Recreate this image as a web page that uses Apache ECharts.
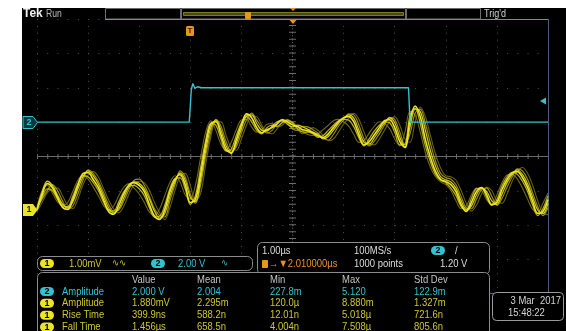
<!DOCTYPE html>
<html>
<head>
<meta charset="utf-8">
<script src="https://cdn.jsdelivr.net/npm/echarts@6/dist/echarts.min.js"></script>
<style>
html,body{margin:0;padding:0;background:#fff;}
#scope{width:566px;height:331px;}
</style>
</head>
<body>
<div id="scope"></div>
<script>
// ---- Horizontal: 1.00 µs/div, trigger at t = 0 (3 div from the left edge) ----
const TIME_MIN = -3;
const TIME_MAX = 7;
const SAMPLE_STEP = 0.1;            // µs between stored samples

// ---- CH1: 1.00 mV/div, ground marker 1.54 div below centre ----
const CH1_SCALE = 1.00;
const CH1_OFFSET_DIV = -1.54;
// CH2: 2.00 V/div, ground marker 1 div above centre
const CH2_SCALE = 2.00;
const CH2_OFFSET_DIV = 1.0;

// CH1 acquisitions held by the persistence display (mV)
const ch1AcqMain = [
  0.00, 0.43, 0.75, 0.64, 0.35, 0.06, 0.00, 0.29, 0.70, 1.04,
  1.07, 0.87, 0.64, 0.29, -0.06, -0.14, 0.12, 0.46, 0.72, 0.78,
  0.70, 0.52, 0.14, -0.20, -0.29, 0.00, 0.52, 0.87, 1.01, 0.72,
  0.20, 0.29, 1.01, 1.88, 2.49, 2.55, 2.17, 1.74, 1.65, 2.03,
  2.46, 2.78, 2.67, 2.38, 2.23, 2.32, 2.38, 2.49, 2.61, 2.55,
  2.46, 2.41, 2.32, 2.29, 2.23, 2.14, 2.09, 2.20, 2.38, 2.55,
  2.67, 2.70, 2.55, 2.17, 1.88, 1.97, 2.17, 2.38, 2.58, 2.61,
  2.38, 1.97, 1.80, 2.61, 3.01, 2.70, 2.03, 1.51, 1.10, 0.87,
  0.81, 0.72, 0.52, 0.14, -0.06, 0.20, 0.52, 0.64, 0.43, 0.14,
  0.20, 0.58, 0.87, 1.07, 1.10, 0.93, 0.64, 0.23, -0.12, -0.06,
  0.29
];
const ch1AcqA = [
  0.02, 0.50, 0.82, 0.70, 0.42, 0.15, 0.05, 0.22, 0.60, 0.95,
  1.12, 0.98, 0.74, 0.40, 0.05, -0.10, 0.02, 0.35, 0.66, 0.80,
  0.76, 0.60, 0.30, -0.05, -0.25, -0.12, 0.38, 0.80, 1.06, 0.85,
  0.35, 0.22, 0.85, 1.70, 2.38, 2.60, 2.30, 1.85, 1.62, 1.92,
  2.35, 2.72, 2.75, 2.50, 2.30, 2.28, 2.42, 2.55, 2.58, 2.48,
  2.40, 2.45, 2.40, 2.33, 2.25, 2.18, 2.05, 2.12, 2.30, 2.50,
  2.66, 2.75, 2.65, 2.30, 1.95, 1.90, 2.08, 2.30, 2.52, 2.66,
  2.52, 2.10, 1.82, 2.40, 2.92, 2.85, 2.30, 1.70, 1.25, 0.95,
  0.86, 0.80, 0.62, 0.25, 0.00, 0.10, 0.42, 0.62, 0.52, 0.25,
  0.15, 0.45, 0.78, 1.02, 1.15, 1.02, 0.75, 0.35, -0.02, -0.12,
  0.18
];
const ch1AcqB = [
  -0.02, 0.35, 0.60, 0.55, 0.30, 0.10, 0.08, 0.38, 0.75, 0.98,
  0.95, 0.78, 0.55, 0.22, -0.02, -0.05, 0.22, 0.52, 0.68, 0.70,
  0.60, 0.40, 0.05, -0.22, -0.20, 0.12, 0.60, 0.90, 0.92, 0.60,
  0.15, 0.40, 1.20, 2.00, 2.50, 2.45, 2.05, 1.70, 1.75, 2.15,
  2.52, 2.70, 2.55, 2.30, 2.20, 2.38, 2.45, 2.42, 2.52, 2.60,
  2.52, 2.35, 2.25, 2.25, 2.20, 2.10, 2.15, 2.30, 2.45, 2.58,
  2.62, 2.60, 2.40, 2.08, 1.85, 2.05, 2.28, 2.45, 2.55, 2.52,
  2.25, 1.88, 1.90, 2.75, 2.95, 2.50, 1.85, 1.38, 1.02, 0.85,
  0.78, 0.62, 0.40, 0.08, -0.02, 0.32, 0.60, 0.62, 0.35, 0.12,
  0.28, 0.68, 0.95, 1.08, 1.02, 0.82, 0.52, 0.12, -0.18, 0.02,
  0.40
];
const ch1AcqC = [
  0.05, 0.30, 0.55, 0.72, 0.55, 0.25, 0.02, 0.10, 0.45, 0.85,
  1.15, 1.05, 0.82, 0.50, 0.15, -0.05, -0.02, 0.25, 0.58, 0.85,
  0.88, 0.70, 0.38, 0.02, -0.18, -0.22, 0.25, 0.72, 1.12, 0.95,
  0.45, 0.18, 0.70, 1.55, 2.25, 2.62, 2.42, 1.98, 1.70, 1.82,
  2.22, 2.60, 2.80, 2.60, 2.38, 2.22, 2.30, 2.50, 2.62, 2.52,
  2.35, 2.30, 2.42, 2.40, 2.32, 2.22, 2.08, 2.02, 2.18, 2.42,
  2.60, 2.78, 2.75, 2.45, 2.05, 1.85, 1.98, 2.20, 2.45, 2.68,
  2.62, 2.25, 1.88, 2.20, 2.80, 2.92, 2.50, 1.92, 1.40, 1.05,
  0.92, 0.88, 0.72, 0.38, 0.05, 0.02, 0.30, 0.58, 0.62, 0.38,
  0.12, 0.32, 0.65, 0.95, 1.18, 1.12, 0.88, 0.48, 0.08, -0.18,
  0.05
];
const ch1AcqD = [
  -0.05, 0.20, 0.48, 0.60, 0.62, 0.40, 0.12, 0.02, 0.30, 0.72,
  1.00, 1.10, 0.95, 0.62, 0.28, 0.02, -0.10, 0.10, 0.45, 0.72,
  0.82, 0.78, 0.55, 0.20, -0.10, -0.30, 0.05, 0.55, 0.95, 1.05,
  0.70, 0.25, 0.45, 1.30, 2.10, 2.55, 2.55, 2.15, 1.80, 1.72,
  2.05, 2.45, 2.72, 2.70, 2.45, 2.25, 2.20, 2.35, 2.55, 2.62,
  2.50, 2.32, 2.20, 2.28, 2.38, 2.30, 2.15, 2.00, 2.05, 2.25,
  2.48, 2.65, 2.80, 2.62, 2.25, 1.92, 1.88, 2.05, 2.30, 2.55,
  2.70, 2.45, 2.05, 1.95, 2.55, 2.98, 2.70, 2.15, 1.60, 1.20,
  0.98, 0.95, 0.85, 0.55, 0.18, -0.05, 0.12, 0.45, 0.65, 0.55,
  0.25, 0.18, 0.45, 0.82, 1.10, 1.22, 1.05, 0.70, 0.25, -0.10,
  -0.15
];
const ch1AcqE = [
  0.08, 0.55, 0.70, 0.48, 0.22, 0.12, 0.20, 0.52, 0.85, 1.00,
  0.88, 0.65, 0.40, 0.12, -0.02, 0.10, 0.40, 0.65, 0.75, 0.62,
  0.45, 0.20, -0.08, -0.18, 0.02, 0.40, 0.78, 0.98, 0.80, 0.42,
  0.30, 0.70, 1.50, 2.25, 2.58, 2.30, 1.90, 1.72, 1.95, 2.32,
  2.60, 2.62, 2.40, 2.25, 2.30, 2.48, 2.50, 2.40, 2.45, 2.58,
  2.55, 2.40, 2.28, 2.18, 2.15, 2.20, 2.32, 2.45, 2.58, 2.62,
  2.55, 2.42, 2.18, 1.95, 2.00, 2.22, 2.42, 2.55, 2.50, 2.35,
  2.05, 1.85, 2.25, 2.85, 2.75, 2.25, 1.65, 1.22, 0.95, 0.80,
  0.72, 0.55, 0.25, 0.02, 0.10, 0.42, 0.62, 0.55, 0.28, 0.15,
  0.42, 0.78, 1.00, 1.02, 0.88, 0.62, 0.30, 0.00, -0.10, 0.18,
  0.48
];

// CH2 gate pulse: breakpoints in µs and volts
const ch2Times = [-3, -0.02, 0.02, 0.05, 0.09, 0.14, 0.22, 4.27, 4.30, 7];
const ch2Volts = [0, 0, 1.90, 2.25, 1.96, 2.06, 2.00, 2.00, 0, 0];

// ---- readouts ----
const ch1Readout = '1.00mV';
const ch2Readout = '2.00 V';
const horizScale = '1.00µs';
const sampleRate = '100MS/s';
const horizPosition = '2.010000µs';
const recordLength = '1000 points';
const triggerLevel = '1.20 V';
const dateText = '3 Mar  2017';
const timeText = '15:48:22';

const measHeaders = ['Value', 'Mean', 'Min', 'Max', 'Std Dev'];
const measSource = ['2', '1', '1', '1'];
const measName = ['Amplitude', 'Amplitude', 'Rise Time', 'Fall Time'];
const measValue = ['2.000 V', '1.880mV', '399.9ns', '1.456µs'];
const measMean = ['2.004', '2.295m', '588.2n', '658.5n'];
const measMin = ['227.8m', '120.0µ', '12.01n', '4.004n'];
const measMax = ['5.120', '8.880m', '5.018µ', '7.508µ'];
const measStd = ['122.9m', '1.327m', '721.6n', '805.6n'];

// ---- look ----
const FONT = "'Liberation Sans',sans-serif";
const TEXT_SQUEEZE = 0.86;          // readout font is narrower than the stock sans
const YELLOW = '#ece428';
const YELLOW_TXT = '#cfc62c';
const CYAN = '#35c2d0';
const ORANGE = '#e8951c';
const GRID_DOT = '#4e4e4e';
const FRAME = '#8c8c8c';

const sampleTimes = ch1AcqMain.map((_, i) => +(TIME_MIN + i * SAMPLE_STEP).toFixed(2));

const chart = echarts.init(document.getElementById('scope'), null, { renderer: 'canvas' });

function txt(x, y, s, color, size, opt) {
  opt = opt || {};
  return {
    type: 'text', x: x, y: y, z: 120, silent: true,
    scaleX: opt.noSqueeze ? 1 : TEXT_SQUEEZE,
    style: {
      text: s, fill: color,
      font: (opt.bold ? 'bold ' : '') + (size || 11) + 'px ' + FONT,
      textAlign: opt.align || 'left', align: opt.align || 'left',
      textVerticalAlign: 'middle', verticalAlign: 'middle'
    }
  };
}
function rect(x, y, w, h, r, stroke, fill, z) {
  return {
    type: 'rect', z: z == null ? 110 : z, silent: true,
    shape: { x: x, y: y, width: w, height: h, r: r || 0 },
    style: { fill: fill || 'none', stroke: stroke || 'none', lineWidth: 1 }
  };
}
function line(x1, y1, x2, y2, color, z) {
  return {
    type: 'line', z: z == null ? 110 : z, silent: true,
    shape: { x1: x1, y1: y1, x2: x2, y2: y2 },
    style: { stroke: color, lineWidth: 1 }
  };
}
function poly(points, fill, stroke) {
  return {
    type: 'polygon', z: 115, silent: true,
    shape: { points: points },
    style: { fill: fill, stroke: stroke || 'none', lineWidth: 1 }
  };
}
function pill(x, y, label, color) {
  return [
    rect(x, y, 14, 9, 4.5, null, color, 115),
    txt(x + 7, y + 4.7, label, '#000', 9, { align: 'center', bold: true, noSqueeze: true })
  ];
}

const gfx = [];
// screen background
gfx.push(rect(22, 8, 544, 323, 0, null, '#000', -10));
// status bar
gfx.push(txt(23, 14, 'Tek', '#f2f2f2', 12, { bold: true, noSqueeze: true }));
gfx.push(txt(46, 14, 'Run', '#b8b8b8', 10));
gfx.push(rect(105.5, 8.5, 75, 10.5, 0, '#6c6c6c', '#000'));
gfx.push(rect(181.5, 8.5, 224, 10.5, 0, '#6c6c6c', '#000'));
gfx.push(rect(183.5, 12.5, 220, 3, 0, '#7c7a24', '#4a4816'));
gfx.push(rect(245, 12, 6, 7, 1, null, ORANGE, 116));
gfx.push(poly([[290, 8], [296, 8], [293, 11]], ORANGE));
gfx.push(rect(406.5, 8.5, 74, 10.5, 0, '#6c6c6c', '#000'));
gfx.push(txt(484, 14, "Trig'd", '#cfcfcf', 10.5));
gfx.push(line(105, 19.5, 548, 19.5, '#6f8cc2'));
gfx.push(poly([[289.5, 20], [296.5, 20], [293, 24]], ORANGE));
// graticule frame
gfx.push(line(548.5, 19, 548.5, 294, '#4b5d7e', 5));
gfx.push(line(37, 293.5, 548.5, 293.5, '#4b5d7e', 5));
// trigger position marker
gfx.push(rect(186, 26, 8, 10, 1.5, null, ORANGE, 116));
gfx.push(txt(190, 31, 'T', '#3a2200', 8, { align: 'center', bold: true, noSqueeze: true }));
// channel ground markers
gfx.push(poly([[23, 116.5], [33, 116.5], [37.5, 122.5], [33, 128.5], [23, 128.5]], '#0c3a42', CYAN));
gfx.push(txt(29, 122.5, '2', CYAN, 9, { align: 'center', bold: true, noSqueeze: true }));
gfx.push(poly([[23, 204], [33, 204], [37.5, 210], [33, 216], [23, 216]], YELLOW));
gfx.push(txt(29, 210, '1', '#222', 9, { align: 'center', bold: true, noSqueeze: true }));
// CH2 trigger level arrow
gfx.push(poly([[540, 101], [546, 97.5], [546, 104.5]], CYAN));

// channel readout bar
gfx.push(rect(37.5, 256.5, 215, 14, 5, FRAME, '#000'));
gfx.push(...pill(40, 259, '1', YELLOW));
gfx.push(txt(69, 263.5, ch1Readout, YELLOW_TXT, 11));
gfx.push(txt(112, 263.5, '∿∿', YELLOW_TXT, 10));
gfx.push(...pill(151, 259, '2', CYAN));
gfx.push(txt(178, 263.5, ch2Readout, CYAN, 11));
gfx.push(txt(221, 263.5, '∿', CYAN, 10));

// horizontal / acquisition / trigger readout
gfx.push(rect(257.5, 242.5, 232, 32, 5, FRAME, '#000'));
gfx.push(txt(262, 251, horizScale, '#dcdcdc', 11));
gfx.push(txt(354, 251, sampleRate, '#dcdcdc', 11));
gfx.push(...pill(431, 246, '2', CYAN));
gfx.push(txt(455, 251, '/', '#dcdcdc', 11));
gfx.push(rect(262, 260, 6, 8, 1, null, ORANGE, 116));
gfx.push(txt(269, 264, '→▼' + horizPosition, ORANGE, 11));
gfx.push(txt(354, 264, recordLength, '#dcdcdc', 11));
gfx.push(txt(440, 264, triggerLevel, '#dcdcdc', 11));

// measurement table
gfx.push(rect(37.5, 272.5, 452, 72, 5, FRAME, '#000'));
const colX = [132, 197, 270, 342, 414];
const headY = 279.5;
const rowY = [291.5, 303.3, 315.2, 327];
measHeaders.forEach((h, i) => gfx.push(txt(colX[i], headY, h, '#c4c4c4', 11)));
measName.forEach((name, r) => {
  const col = measSource[r] === '2' ? CYAN : YELLOW_TXT;
  gfx.push(...pill(40, rowY[r] - 4.5, measSource[r], measSource[r] === '2' ? CYAN : YELLOW));
  gfx.push(txt(62, rowY[r], name, col, 11));
  [measValue, measMean, measMin, measMax, measStd].forEach((arr, c) => {
    gfx.push(txt(colX[c], rowY[r], arr[r], col, 11));
  });
});

// date / time
gfx.push(rect(492.5, 292.5, 71, 28, 4, '#9a9a9a', '#000'));
gfx.push(txt(561, 301, dateText, '#d4d4d4', 11, { align: 'right' }));
gfx.push(txt(508, 313, timeText, '#d4d4d4', 11));

// ---- series ----
const ch1Sets = [ch1AcqD, ch1AcqE, ch1AcqC, ch1AcqB, ch1AcqA, ch1AcqMain];
const ch1Colors = [
  'rgba(120,112,18,0.85)', 'rgba(130,122,20,0.85)', 'rgba(175,165,24,0.85)',
  'rgba(212,202,30,0.85)', 'rgba(228,218,34,0.9)', YELLOW
];
const ch1Widths = [1.1, 1.1, 1.2, 1.3, 1.3, 1.6];

const series = [];
// centre cross with fine graduation ticks
const CENTRE = '#6a6a6a';
series.push({ type: 'line', yAxisIndex: 0, silent: true, symbol: 'none', z: 1,
  data: [[TIME_MIN, 0], [TIME_MAX, 0]], lineStyle: { color: CENTRE, width: 1 } });
series.push({ type: 'line', yAxisIndex: 0, silent: true, symbol: 'none', z: 1,
  data: [[TIME_MIN, 0], [TIME_MAX, 0]], lineStyle: { color: CENTRE, width: 5, type: [1, 9.22] } });
series.push({ type: 'line', yAxisIndex: 0, silent: true, symbol: 'none', z: 1,
  data: [[2, -4], [2, 4]], lineStyle: { color: CENTRE, width: 1, type: [1, 2.4375] } });
series.push({ type: 'line', yAxisIndex: 0, silent: true, symbol: 'none', z: 1,
  data: [[2, -4], [2, 4]], lineStyle: { color: CENTRE, width: 7, type: [1, 5.875] } });

ch1Sets.forEach((vals, k) => {
  series.push({
    name: 'CH1', type: 'line', yAxisIndex: 1, symbol: 'none', smooth: 0.35, silent: true,
    z: 3 + k,
    data: vals.map((v, i) => [sampleTimes[i], v]),
    lineStyle: { color: ch1Colors[k], width: ch1Widths[k] }
  });
});
series.push({
  name: 'CH2', type: 'line', yAxisIndex: 2, symbol: 'none', silent: true, z: 12,
  data: ch2Times.map((t, i) => [t, ch2Volts[i]]),
  lineStyle: { color: CYAN, width: 1.4 }
});

const hiddenAxis = { show: false, splitLine: { show: false } };

chart.setOption({
  backgroundColor: '#ffffff',
  animation: false,
  grid: { left: 37, top: 19, width: 511, height: 275, containLabel: false },
  xAxis: {
    type: 'value', min: TIME_MIN, max: TIME_MAX, interval: 1,
    axisLine: { show: false }, axisTick: { show: false }, axisLabel: { show: false },
    splitLine: { show: true, lineStyle: { color: GRID_DOT, width: 1, type: [1, 5.875] } }
  },
  yAxis: [
    {
      type: 'value', min: -4, max: 4, interval: 1,
      axisLine: { show: false }, axisTick: { show: false }, axisLabel: { show: false },
      splitLine: { show: true, lineStyle: { color: GRID_DOT, width: 1, type: [1, 9.22] } }
    },
    Object.assign({ type: 'value',
      min: (-4 - CH1_OFFSET_DIV) * CH1_SCALE, max: (4 - CH1_OFFSET_DIV) * CH1_SCALE }, hiddenAxis),
    Object.assign({ type: 'value',
      min: (-4 - CH2_OFFSET_DIV) * CH2_SCALE, max: (4 - CH2_OFFSET_DIV) * CH2_SCALE }, hiddenAxis)
  ],
  series: series,
  graphic: { elements: gfx }
});
</script>
</body>
</html>
